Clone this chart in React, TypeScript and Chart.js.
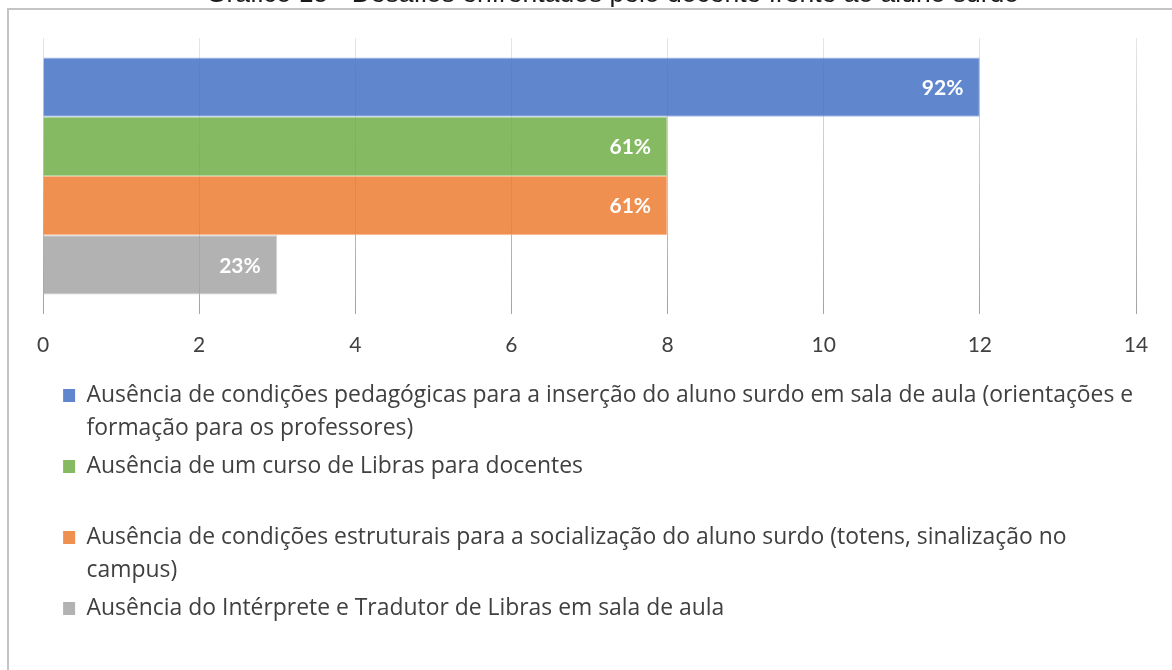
import React, { useEffect, useRef } from 'react';
import { Chart, registerables } from 'chart.js';

Chart.register(...registerables);

const titleText = 'Gráfico 15 - Desafios enfrentados pelo docente frente ao aluno surdo';
const categories = [''];
const seriesLabels = [
  'Ausência de condições pedagógicas para a inserção do aluno surdo em sala de aula (orientações e formação para os professores)',
  'Ausência de um curso de Libras para docentes',
  'Ausência de condições estruturais para a socialização do aluno surdo (totens, sinalização no campus)',
  'Ausência do Intérprete e Tradutor de Libras em sala de aula',
];
const legendLines = [
  ['Ausência de condições pedagógicas para a inserção do aluno surdo em sala de aula (orientações e', 'formação para os professores)'],
  ['Ausência de um curso de Libras para docentes'],
  ['Ausência de condições estruturais para a socialização do aluno surdo (totens, sinalização no', 'campus)'],
  ['Ausência do Intérprete e Tradutor de Libras em sala de aula'],
];
const seriesValues = [12, 8, 8, 3];
const percentLabels = ['92%', '61%', '61%', '23%'];
const seriesColors = ['rgba(68,114,196,0.85)', 'rgba(112,173,71,0.85)', 'rgba(237,125,49,0.85)', 'rgba(165,165,165,0.85)'];
const seriesBorders = ['#A3B9E2', '#B3D59C', '#F6BD96', '#D0D0D0'];
const xMin = 0;
const xMax = 14;
const xStep = 2;

const FONT = 'Lato';
const LEGEND_FONT = 'Open Sans';

const framePlugin = {
  id: 'frame',
  beforeDraw(chart: any) {
    const ctx = chart.ctx;
    ctx.save();
    ctx.strokeStyle = '#C4C4C4';
    ctx.lineWidth = 2;
    ctx.strokeRect(8, 9, 4000, 4000);
    ctx.restore();
  },
};

const shiftPlugin = {
  id: 'shiftBoxes',
  afterLayout(chart: any) {
    if (chart.legend) {
      chart.legend.left += 7.5;
      chart.legend.right += 34;
      chart.legend.width = chart.legend.right - chart.legend.left;
    }
    if (chart.titleBlock) chart.titleBlock.left += 46;
  },
};

const barLabelPlugin = {
  id: 'barLabels',
  afterDatasetsDraw(chart: any) {
    const ctx = chart.ctx;
    ctx.save();
    ctx.font = `bold 21px ${FONT}`;
    ctx.fillStyle = '#ffffff';
    ctx.textAlign = 'right';
    ctx.textBaseline = 'middle';
    chart.data.datasets.forEach((_ds: any, i: number) => {
      const meta = chart.getDatasetMeta(i);
      meta.data.forEach((bar: any) => {
        const { x, y } = bar.getProps(['x', 'y'], true);
        ctx.fillText(percentLabels[i], x - 16.5, y + 1);
      });
    });
    ctx.restore();
  },
};

export default function App() {
  const ref = useRef<HTMLCanvasElement | null>(null);

  useEffect(() => {
    if (!ref.current) return;
    const spacer = {
      text: ' '.repeat(500),
      fillStyle: 'rgba(0,0,0,0)',
      strokeStyle: 'rgba(0,0,0,0)',
      lineWidth: 0,
      fontColor: 'rgba(0,0,0,0)',
      hidden: false,
    };
    const chart = new Chart(ref.current, {
      type: 'bar',
      data: {
        labels: categories,
        datasets: seriesLabels.map((label, i) => ({
          label,
          data: [seriesValues[i]],
          backgroundColor: seriesColors[i],
          borderColor: seriesBorders[i],
          borderWidth: 1,
          categoryPercentage: 0.859,
          barPercentage: 1,
        })),
      },
      options: {
        indexAxis: 'y',
        responsive: false,
        animation: false,
        layout: { padding: { left: 43, right: 36, top: 0, bottom: 40 } },
        scales: {
          x: {
            type: 'linear',
            min: xMin,
            max: xMax,
            ticks: {
              stepSize: xStep,
              padding: 18.4,
              color: '#404040',
              font: { family: FONT, size: 21 },
            },
            grid: {
              drawTicks: false,
              lineWidth: 1,
              color: (c: any) => {
                const a = c.chart.chartArea;
                if (!a) return '#D0D0D0';
                const g = c.chart.ctx.createLinearGradient(0, a.top, 0, a.bottom);
                g.addColorStop(0, '#E6E6E6');
                g.addColorStop(1, '#A3A3A3');
                return g;
              },
            },
            border: { display: false },
            afterFit: (s: any) => {
              s.height = 57.5;
            },
          },
          y: { type: 'category', display: false },
        },
        plugins: {
          title: {
            display: true,
            text: titleText,
            color: '#1a1a1a',
            font: { family: 'Liberation Sans', size: 26.5, weight: 'normal' },
            padding: { top: -21.2, bottom: 27.4 },
          },
          legend: {
            display: true,
            position: 'bottom',
            align: 'start',
            labels: {
              font: { family: LEGEND_FONT, size: 22.9, lineHeight: '33px' },
              color: '#404040',
              boxWidth: 12,
              boxHeight: 13,
              padding: 12.6,
              generateLabels: (ch: any) => {
                const items: any[] = [];
                ch.data.datasets.forEach((_ds: any, i: number) => {
                  if (i > 0) items.push({ ...spacer });
                  items.push({
                    text: legendLines[i].length > 1 ? legendLines[i] : legendLines[i][0],
                    fillStyle: seriesColors[i],
                    strokeStyle: seriesColors[i],
                    lineWidth: 0,
                    fontColor: '#404040',
                    hidden: false,
                    datasetIndex: i,
                  });
                });
                return items;
              },
            },
          },
          tooltip: { enabled: false },
        },
      },
      plugins: [framePlugin, shiftPlugin, barLabelPlugin],
    } as any);
    return () => chart.destroy();
  }, []);

  return (
    <canvas
      ref={ref}
      width={1172}
      height={670}
      style={{ position: 'fixed', left: 0, top: 0, display: 'block' }}
    />
  );
}
